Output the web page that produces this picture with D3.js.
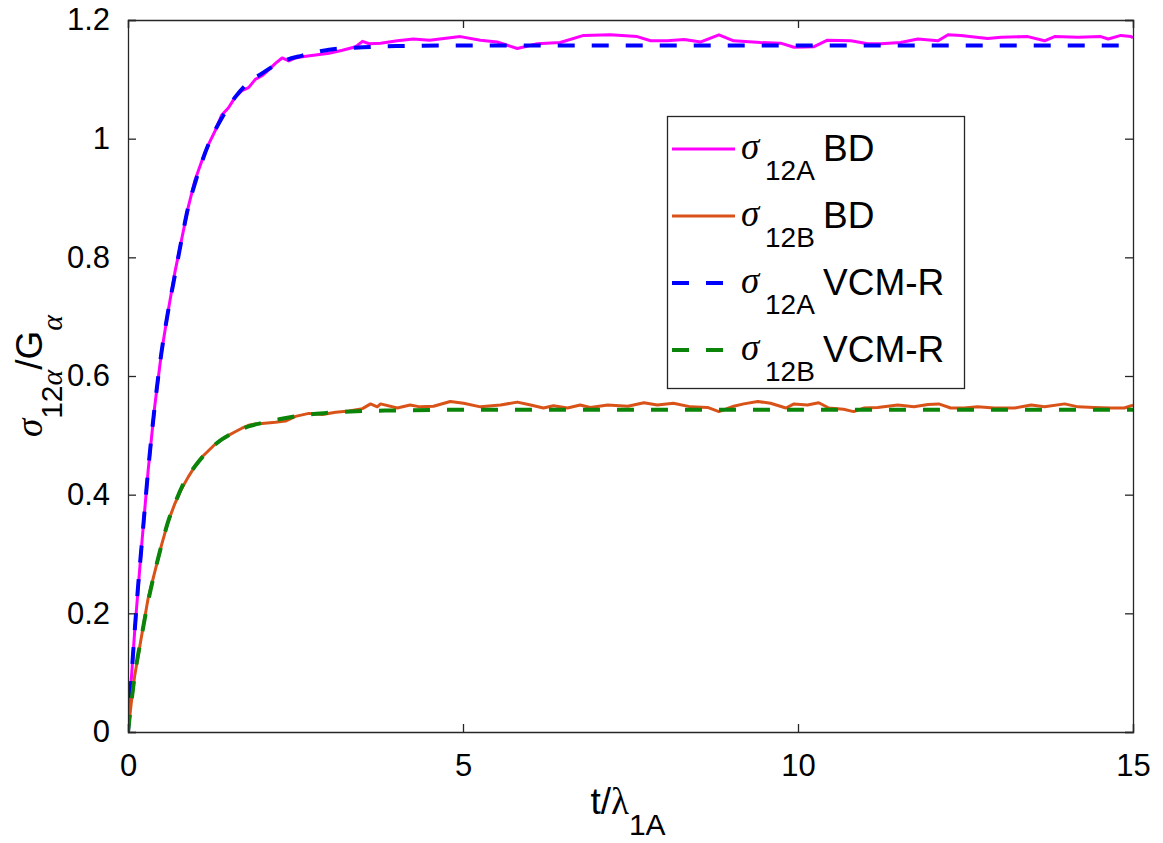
<!DOCTYPE html>
<html>
<head>
<meta charset="utf-8">
<script src="https://cdn.jsdelivr.net/npm/d3@7"></script>
<style>
  html, body { margin: 0; padding: 0; background: #fff; }
  svg { display: block; }
  text { font-family: "Liberation Sans", Arial, Helvetica, sans-serif; fill: #000; }
  .greek { font-family: "Liberation Serif", "DejaVu Serif", serif; font-style: italic; }
</style>
</head>
<body>
<svg id="chart" width="1163" height="843"></svg>
<script>
// Shear stress sigma_12 / G for species A and B versus t / lambda_1A
// Brownian dynamics (BD) results and VCM-R model predictions.

const tBD_A = [0,0.05,0.1,0.2,0.3,0.4,0.5,0.6,0.7,0.8,0.9,1.0,1.1,1.2,1.3,1.4,1.5,1.6,1.7,1.8,1.9,2.0,2.1,2.2,2.3,2.4,2.5,2.6,2.8,3.0,3.2,3.4,3.5,3.6,3.77,4.02,4.26,4.5,4.96,5.26,5.51,5.81,6.11,6.45,6.8,7.2,7.6,7.8,8.05,8.3,8.55,8.82,9.04,9.44,9.74,9.94,10.24,10.44,10.79,11.04,11.24,11.53,11.79,12.09,12.24,12.43,12.83,13.03,13.43,13.68,13.83,14.18,14.52,14.63,14.82,14.97,15];
const sBD_A = [0,0.09,0.17,0.31,0.44,0.55,0.64,0.71,0.775,0.83,0.885,0.93,0.962,0.99,1.013,1.04,1.052,1.07,1.081,1.086,1.1,1.106,1.116,1.127,1.136,1.131,1.136,1.138,1.141,1.144,1.149,1.155,1.164,1.16,1.161,1.165,1.168,1.166,1.172,1.166,1.163,1.152,1.16,1.162,1.174,1.175,1.172,1.165,1.165,1.167,1.163,1.175,1.165,1.162,1.161,1.154,1.155,1.166,1.165,1.16,1.16,1.162,1.168,1.165,1.175,1.174,1.169,1.171,1.172,1.165,1.172,1.171,1.172,1.168,1.174,1.172,1.17];

const tBD_B = [0,0.05,0.1,0.2,0.3,0.4,0.5,0.6,0.7,0.8,0.9,1.0,1.1,1.2,1.3,1.4,1.5,1.6,1.7,1.8,1.9,2.0,2.2,2.35,2.5,2.7,2.9,3.1,3.3,3.5,3.62,3.72,3.77,4.02,4.21,4.36,4.56,4.81,5.01,5.26,5.56,5.81,6.01,6.2,6.35,6.56,6.75,6.9,7.16,7.46,7.7,7.9,8.14,8.4,8.65,8.82,9.04,9.19,9.4,9.59,9.82,9.94,10.14,10.31,10.46,10.68,10.83,10.98,11.19,11.49,11.73,11.94,12.1,12.28,12.48,12.68,12.93,13.23,13.48,13.68,13.98,14.18,14.42,14.67,14.87,15];
const sBD_B = [0,0.05,0.095,0.16,0.225,0.27,0.315,0.355,0.385,0.41,0.43,0.448,0.463,0.474,0.485,0.493,0.5,0.506,0.512,0.517,0.519,0.52,0.522,0.524,0.532,0.537,0.535,0.539,0.541,0.545,0.553,0.548,0.553,0.546,0.551,0.548,0.549,0.557,0.554,0.548,0.551,0.556,0.551,0.546,0.55,0.546,0.551,0.547,0.551,0.549,0.555,0.551,0.554,0.548,0.547,0.54,0.549,0.553,0.557,0.554,0.546,0.553,0.551,0.555,0.546,0.544,0.54,0.546,0.547,0.551,0.548,0.552,0.553,0.546,0.546,0.548,0.546,0.546,0.551,0.548,0.553,0.548,0.547,0.546,0.546,0.551];

const tVCM = [0,0.05,0.1,0.15,0.2,0.3,0.4,0.5,0.6,0.7,0.8,0.9,1.0,1.2,1.4,1.6,1.8,2.0,2.3,2.6,3.0,3.5,4,5,6,8,10,12,15];
const sVCM_A = [0,0.09,0.17,0.245,0.31,0.44,0.55,0.64,0.71,0.77,0.83,0.885,0.925,0.99,1.035,1.07,1.095,1.11,1.13,1.14,1.15,1.154,1.156,1.157,1.157,1.157,1.157,1.157,1.157];
const sVCM_B = [0,0.05,0.095,0.13,0.16,0.22,0.27,0.315,0.355,0.385,0.412,0.432,0.448,0.474,0.493,0.506,0.515,0.521,0.528,0.534,0.538,0.541,0.542,0.543,0.543,0.543,0.543,0.543,0.543];

const xTicks = [0, 5, 10, 15];
const xTickLabels = ["0", "5", "10", "15"];
const yTicks = [0, 0.2, 0.4, 0.6, 0.8, 1, 1.2];
const yTickLabels = ["0", "0.2", "0.4", "0.6", "0.8", "1", "1.2"];

const seriesNames = ["BD", "BD", "VCM-R", "VCM-R"];
const seriesSubs = ["12A", "12B", "12A", "12B"];

const svg = d3.select("#chart");
const mLeft = 128, mRight = 1133, mTop = 20, mBottom = 732;

const x = d3.scaleLinear().domain([0, 15]).range([mLeft, mRight]);
const y = d3.scaleLinear().domain([0, 1.2]).range([mBottom, mTop]);

const axisColor = "#262626";
const labelSize = 37, subSize = 30, legendSub = 28;

// Curves
const mk = (ts, vs) => ts.map((t, i) => [t, vs[i]]);
const lineLin = d3.line().x(d => x(d[0])).y(d => y(d[1]));
const lineSmooth = d3.line().x(d => x(d[0])).y(d => y(d[1])).curve(d3.curveMonotoneX);

const series = [
  { data: mk(tBD_A, sBD_A), color: "#ff00ff", dash: null, gen: lineLin, w: 3 },
  { data: mk(tBD_B, sBD_B), color: "#d95319", dash: null, gen: lineLin, w: 3 },
  { data: mk(tVCM, sVCM_A), color: "#0000ff", dash: "17,17", gen: lineSmooth, w: 4 },
  { data: mk(tVCM, sVCM_B), color: "#0a850a", dash: "17,17", gen: lineSmooth, w: 4 }
];

const plot = svg.append("g");
plot.append("clipPath").attr("id", "clip")
  .append("rect").attr("x", mLeft).attr("y", mTop - 5).attr("width", mRight - mLeft).attr("height", mBottom - mTop + 5);

series.forEach(s => {
  plot.append("path")
    .attr("clip-path", "url(#clip)")
    .attr("d", s.gen(s.data))
    .attr("fill", "none")
    .attr("stroke", s.color)
    .attr("stroke-width", s.w)
    .attr("stroke-linejoin", "round")
    .attr("stroke-dasharray", s.dash);
});

// Axes (ticks inward on all four sides)
const tickLen = 8;
const gL = svg.append("g").attr("transform", `translate(${mLeft},0)`)
  .call(d3.axisLeft(y).tickValues(yTicks).tickSize(-tickLen).tickPadding(tickLen + 10)
    .tickFormat((d, i) => yTickLabels[i]));
const gR = svg.append("g").attr("transform", `translate(${mRight},0)`)
  .call(d3.axisRight(y).tickValues(yTicks).tickSize(-tickLen).tickFormat(""));
const gB = svg.append("g").attr("transform", `translate(0,${mBottom})`)
  .call(d3.axisBottom(x).tickValues(xTicks).tickSize(-tickLen).tickPadding(tickLen + 14)
    .tickFormat((d, i) => xTickLabels[i]));
const gT = svg.append("g").attr("transform", `translate(0,${mTop})`)
  .call(d3.axisTop(x).tickValues(xTicks).tickSize(-tickLen).tickFormat(""));

[gL, gR, gB, gT].forEach(g => {
  g.select(".domain").attr("stroke", axisColor).attr("stroke-width", 1.3);
  g.selectAll(".tick line").attr("stroke", axisColor).attr("stroke-width", 1.3);
  g.selectAll(".tick text").attr("font-family", "Liberation Sans, Arial, sans-serif")
    .attr("font-size", 31).attr("fill", "#000");
});

// Axis labels
const xl = svg.append("text")
  .attr("x", 628).attr("y", 814)
  .attr("text-anchor", "middle")
  .attr("font-size", labelSize);
xl.append("tspan").text("t/");
xl.append("tspan").attr("class", "greek").style("font-style", "normal").text("λ");
xl.append("tspan").attr("font-size", subSize).attr("dy", 21).text("1A");

const yl = svg.append("text")
  .attr("transform", "translate(42,376) rotate(-90)")
  .attr("text-anchor", "middle")
  .attr("font-size", labelSize);
yl.append("tspan").attr("class", "greek").text("σ");
yl.append("tspan").attr("font-size", subSize).attr("dy", 20).text("12");
yl.append("tspan").attr("class", "greek").attr("font-size", subSize).text("α");
yl.append("tspan").attr("dy", -20).text("/G");
yl.append("tspan").attr("class", "greek").attr("font-size", subSize).attr("dy", 20).text("α");

// Legend
const lg = svg.append("g");
lg.append("rect")
  .attr("x", 667.5).attr("y", 116.5).attr("width", 297).attr("height", 272)
  .attr("fill", "#fff").attr("stroke", axisColor).attr("stroke-width", 1.3);

series.forEach((s, i) => {
  const ly = 149 + i * 67;
  lg.append("line")
    .attr("x1", 672).attr("x2", 735).attr("y1", ly).attr("y2", ly)
    .attr("stroke", s.color).attr("stroke-width", s.w)
    .attr("stroke-dasharray", s.dash);
  lg.append("text").attr("class", "greek").attr("x", 741).attr("y", ly + 10)
    .attr("font-size", labelSize).text("σ");
  lg.append("text").attr("x", 765).attr("y", ly + 31)
    .attr("font-size", legendSub).text(seriesSubs[i]);
  lg.append("text").attr("x", 823).attr("y", ly + 12)
    .attr("font-size", labelSize).text(seriesNames[i]);
});
</script>
</body>
</html>
